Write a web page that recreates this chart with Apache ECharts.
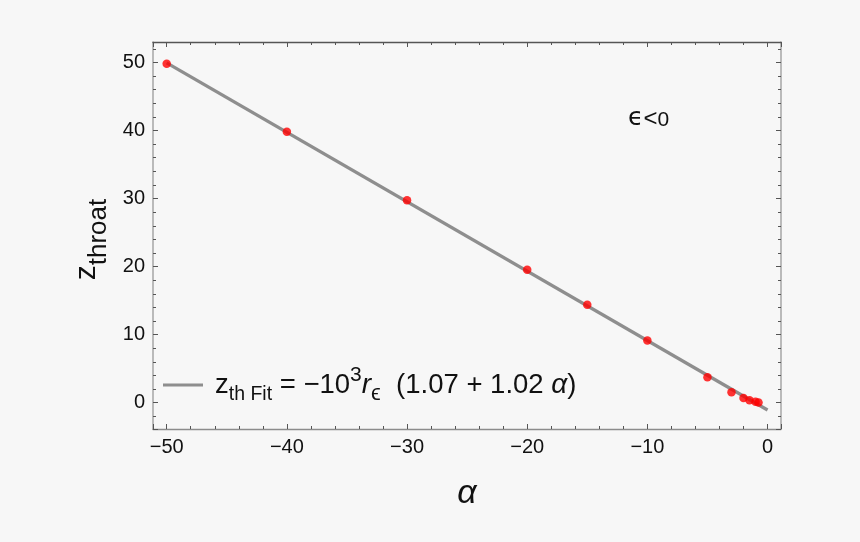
<!DOCTYPE html>
<html>
<head>
<meta charset="utf-8">
<script src="https://cdn.jsdelivr.net/npm/echarts@6/dist/echarts.min.js"></script>
<style>
html,body{margin:0;padding:0;background:#f7f7f7;}
#c{width:860px;height:542px;}
</style>
</head>
<body>
<div id="c"></div>
<script>
// Data
const alphaPoints = [-50, -40, -30, -20, -15, -10, -5, -3, -2, -1.5, -1, -0.75];
const zThroat     = [49.8, 39.8, 29.75, 19.55, 14.4, 9.15, 3.75, 1.55, 0.7, 0.35, 0.15, 0.05];
const fitAlpha    = [-50, 0];
const fitZ        = [49.93, -1.07];
const xTicks = [-50, -40, -30, -20, -10, 0];
const yTicks = [0, 10, 20, 30, 40, 50];
const fitName = 'fit';

const FONT = '"Liberation Sans", Arial, sans-serif';
const minus = v => String(v).replace('-', '\u2212');

const chart = echarts.init(document.getElementById('c'), null, {renderer: 'canvas'});

function xAxisCfg(pos, showLabels, lineColor, name) {
  return {
    type: 'value', position: pos,
    min: -51.14, max: 1.12,
    splitNumber: 5,
    name: name || '', nameLocation: 'middle', nameGap: 48,
    nameTextStyle: {fontFamily: FONT, fontSize: 34, fontStyle: 'italic', color: '#111'},
    axisLine: {show: true, onZero: false, lineStyle: {color: lineColor, width: 1.3}},
    axisTick: {show: true, inside: true, length: 5, lineStyle: {color: '#555', width: 1}},
    minorTick: {show: true, splitNumber: 5, length: 3, lineStyle: {color: '#555', width: 1}},
    axisLabel: {show: showLabels, showMinLabel: false, showMaxLabel: false, margin: 8,
      fontFamily: FONT, fontSize: 20, color: '#111', formatter: minus},
    splitLine: {show: false}
  };
}
function yAxisCfg(pos, showLabels, lineColor, name) {
  return {
    type: 'value', position: pos,
    min: -3.86, max: 53.0,
    splitNumber: 5,
    name: name || '', nameLocation: 'middle', nameGap: 37, nameRotate: 90,
    nameTextStyle: {
      fontFamily: FONT, color: '#111',
      rich: {
        z: {fontFamily: FONT, fontSize: 30, lineHeight: 40, color: '#111', verticalAlign: 'top'},
        s: {fontFamily: FONT, fontSize: 26, lineHeight: 26, color: '#111', verticalAlign: 'bottom',
            padding: [0, 8, 0, 0]}
      }
    },
    axisLine: {show: true, onZero: false, lineStyle: {color: lineColor, width: 1.6}},
    axisTick: {show: true, inside: true, length: 5, lineStyle: {color: '#555', width: 1}},
    minorTick: {show: true, splitNumber: 5, length: 3, lineStyle: {color: '#555', width: 1}},
    axisLabel: {show: showLabels, showMinLabel: false, showMaxLabel: false, margin: 8,
      fontFamily: FONT, fontSize: 20, color: '#111', formatter: minus},
    splitLine: {show: false}
  };
}

const option = {
  backgroundColor: '#f7f7f7',
  animation: false,
  grid: {left: 153, right: 79, top: 42, bottom: 113, containLabel: false},
  xAxis: [xAxisCfg('bottom', true, '#8c8c8c', '\u03b1'), xAxisCfg('top', false, '#555')],
  yAxis: [yAxisCfg('left', true, '#aaaaaa', '{z|z}{s|throat}'), yAxisCfg('right', false, '#aaaaaa')],
  legend: {
    left: 163, top: 365, padding: 0,
    itemWidth: 40, itemHeight: 3,
    data: [{name: fitName, icon: 'rect', itemStyle: {color: '#8e8e8e'}}],
    formatter: () => '{z|z}{sb|th Fit}{n| = \u221210}{sp|3}{i|r}{se|\u03f5}{n|  (1.07 + 1.02 }{i|\u03b1}{n|)}',
    textStyle: {
      fontFamily: FONT, color: '#111',
      rich: {
        z:  {fontFamily: FONT, fontSize: 27.5, lineHeight: 40, color: '#111', padding: [0, 0, 0, 7]},
        n:  {fontFamily: FONT, fontSize: 27.5, lineHeight: 40, color: '#111'},
        i:  {fontFamily: FONT, fontSize: 28, lineHeight: 40, color: '#111', fontStyle: 'italic'},
        sb: {fontFamily: FONT, fontSize: 19.5, lineHeight: 19, color: '#111', verticalAlign: 'bottom'},
        se: {fontFamily: FONT, fontSize: 22, lineHeight: 21, color: '#111', verticalAlign: 'bottom'},
        sp: {fontFamily: FONT, fontSize: 21, lineHeight: 20, color: '#111', verticalAlign: 'top'}
      }
    }
  },
  graphic: [{
    type: 'text', left: 628, top: 106,
    style: {
      text: '{e|\u03f5}{l|<}{n|0}',
      font: '21px ' + FONT, fill: '#111',
      rich: {
        e: {fontFamily: 'DejaVu Sans', fontSize: 25, lineHeight: 25, fill: '#111', verticalAlign: 'bottom'},
        l: {fontFamily: FONT, fontSize: 24, lineHeight: 19, fill: '#111', verticalAlign: 'bottom'},
        n: {fontFamily: FONT, fontSize: 21, lineHeight: 21, fill: '#111', verticalAlign: 'bottom'}
      }
    }
  }],
  series: [
    {
      name: fitName, type: 'line', xAxisIndex: 0, yAxisIndex: 0,
      data: fitAlpha.map((a, i) => [a, fitZ[i]]),
      showSymbol: false, symbol: 'none',
      lineStyle: {color: '#8e8e8e', width: 3.3},
      itemStyle: {color: '#8e8e8e'},
      z: 2
    },
    {
      name: 'points', type: 'scatter', xAxisIndex: 0, yAxisIndex: 0,
      data: alphaPoints.map((a, i) => [a, zThroat[i]]),
      symbolSize: 8.5,
      itemStyle: {color: '#ff0000'},
      z: 3
    }
  ]
};
chart.setOption(option);
</script>
</body>
</html>
